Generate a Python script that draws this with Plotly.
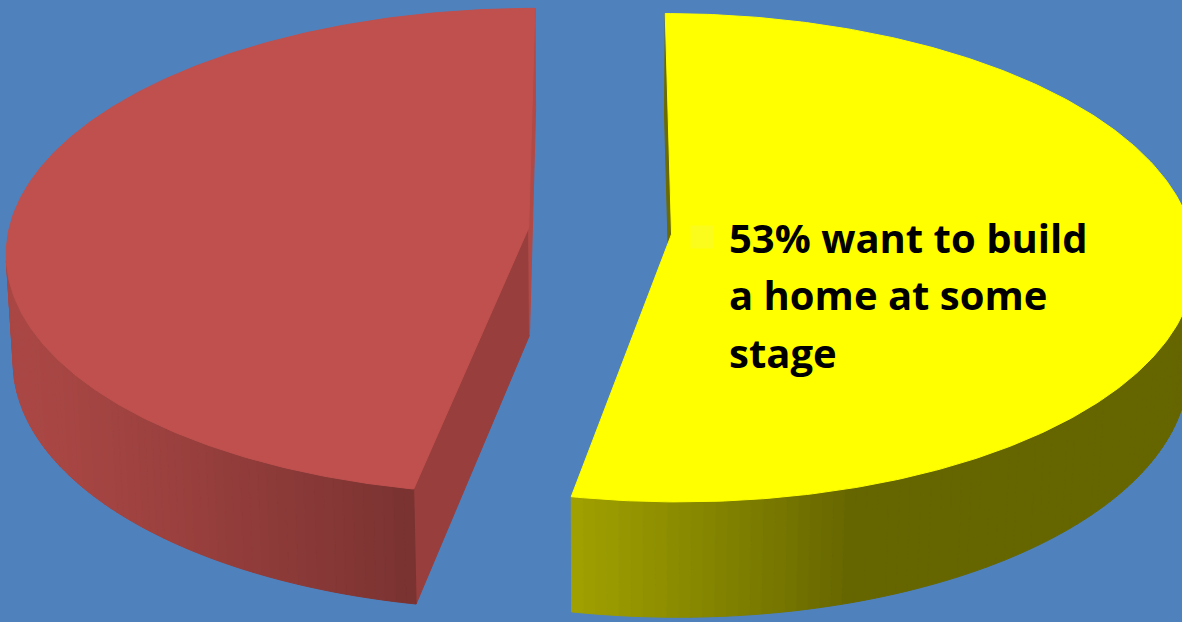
import numpy as np
import plotly.graph_objects as go

# ---- data ----
labels = ["Want to build a home at some stage", "Other"]
values = [53, 47]
top_colors = ["#FFFF00", "#C0504D"]
label_lines = ["53% want to build", "a home at some", "stage"]

# ---- view / styling ----
W, H = 1182, 622
BG = "#4F81BD"
X0, Y0 = 600, 231
S_ = 0.464
C_ = float(np.sqrt(1 - S_ * S_))
D = 9.18
F = 520 * D
T = 0.236
EXPL = 0.138
LIGHT = np.array([-0.954, 0.3])
radial_bright = {0: (0.42, 0.42), 1: (0.79, 0.92)}  # (start edge, end edge)
CAM = np.array([0.0, D * C_, D * S_])


def proj(u, w, h):
    yc = h * C_ - w * S_
    zc = D - w * C_ - h * S_
    return X0 + F * u / zc, Y0 - F * yc / zc


def hex_rgb(hx):
    hx = hx.lstrip("#")
    return np.array([int(hx[i:i + 2], 16) for i in (0, 2, 4)], dtype=float)


def shade(hx, b):
    r, g, bl = np.clip(hex_rgb(hx) * b, 0, 255).round().astype(int)
    return f"rgb({r},{g},{bl})"


fig = go.Figure()


def poly(pts, color):
    xs = [p[0] for p in pts] + [pts[0][0]]
    ys = [p[1] for p in pts] + [pts[0][1]]
    fig.add_trace(go.Scatter(x=xs, y=ys, mode="lines", fill="toself",
                             fillcolor=color, line=dict(color=color, width=1),
                             hoverinfo="skip", showlegend=False))


total = float(sum(values))
start = 0.0
for i, (val, col) in enumerate(zip(values, top_colors)):
    a0 = start
    a1 = start + 2 * np.pi * val / total
    start = a1
    mid = (a0 + a1) / 2
    ou, ow = EXPL * np.sin(mid), -EXPL * np.cos(mid)

    def P(th, h, r=1.0):
        return proj(ou + r * np.sin(th), ow - r * np.cos(th), h)

    # radial walls
    for k, th in enumerate((a0, a1)):
        tang = np.array([np.cos(th), np.sin(th)])
        n = -tang if k == 0 else tang
        pc = np.array([ou + 0.5 * np.sin(th), ow - 0.5 * np.cos(th), -T / 2])
        v = CAM - pc
        if n[0] * v[0] + n[1] * v[1] > 0:
            poly([proj(ou, ow, 0), P(th, 0), P(th, -T), proj(ou, ow, -T)],
                 shade(col, radial_bright[i][k]))

    # outer curved wall
    ths = np.linspace(a0, a1, 160)
    for t0, t1 in zip(ths[:-1], ths[1:]):
        tm = (t0 + t1) / 2
        n = np.array([np.sin(tm), -np.cos(tm)])
        pm = np.array([ou + np.sin(tm), ow - np.cos(tm), -T / 2])
        v = CAM - pm
        if n[0] * v[0] + n[1] * v[1] <= 0:
            continue
        b = 0.4 + 0.486 * max(0.0, float(n @ LIGHT))
        poly([P(t0, 0), P(t1, 0), P(t1, -T), P(t0, -T)], shade(col, b))

    # top face
    arc = [P(t, 0) for t in np.linspace(a0, a1, 300)]
    poly([proj(ou, ow, 0)] + arc, col)

# label key and text
fig.add_trace(go.Scatter(x=[702], y=[237], mode="markers",
                         marker=dict(symbol="square", size=23, color="#FBFB1C"),
                         hoverinfo="skip", showlegend=False))
for j, line in enumerate(label_lines):
    fig.add_annotation(x=727, y=237 + 57.5 * j, xref="x", yref="y",
                       text=f"<b>{line}</b>", showarrow=False,
                       xanchor="left", yanchor="middle",
                       font=dict(family="Open Sans", size=40, color="#000000"))

fig.update_layout(
    width=W, height=H, margin=dict(l=0, r=0, t=0, b=0),
    paper_bgcolor=BG, plot_bgcolor=BG, showlegend=False,
    xaxis=dict(range=[0, W], visible=False, fixedrange=True),
    yaxis=dict(range=[H, 0], visible=False, fixedrange=True),
)
fig.write_html("out.html")
